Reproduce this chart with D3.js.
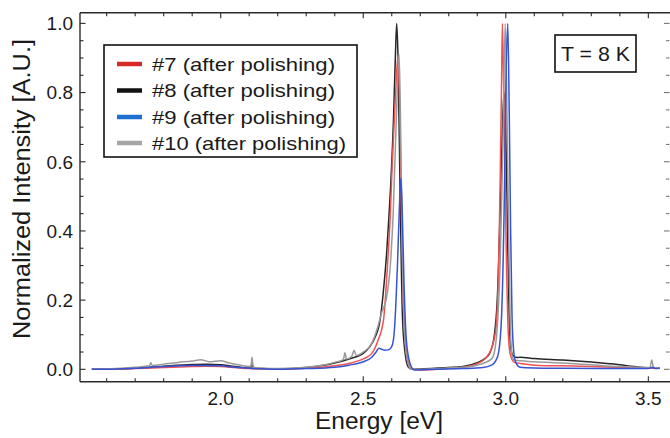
<!DOCTYPE html>
<html>
<head>
<meta charset="utf-8">
<script src="https://cdn.jsdelivr.net/npm/d3@7/dist/d3.min.js"></script>
<style>
  html, body { margin: 0; padding: 0; background: #fff; }
  svg { display: block; font-family: "Liberation Sans", Arial, sans-serif; }
</style>
</head>
<body>
<svg id="chart" width="670" height="438"></svg>
<script>
// Photoluminescence spectra, T = 8 K, normalized intensity vs energy (eV)
const seriesNames = ["#7 (after polishing)", "#8 (after polishing)", "#9 (after polishing)", "#10 (after polishing)"];
const seriesColors = ["#ef5252", "#262626", "#3553d4", "#9a9a9a"];
const legendColors = ["#d42a2a", "#111111", "#1f6fd0", "#a6a6a6"];

const sample7 = [
  [1.548,0],[1.6,0.0],[1.7,0.002],[1.8,0.005],[1.9,0.008],[1.95,0.009],[2.0,0.008],[2.05,0.005],
  [2.1,0.002],[2.2,0.0],[2.3,0.003],[2.4,0.01],[2.45,0.017],[2.5,0.03],[2.53,0.046],[2.55,0.08],
  [2.571,0.142],[2.585,0.3],[2.594,0.43],[2.602,0.6],[2.609,0.72],[2.616,0.84],[2.622,0.908],
  [2.628,0.75],[2.633,0.5],[2.64,0.22],[2.648,0.08],[2.658,0.02],[2.67,0.0],[2.7,-0.002],
  [2.8,0.003],[2.85,0.006],[2.9,0.016],[2.93,0.033],[2.95,0.06],[2.96,0.09],[2.968,0.142],
  [2.975,0.3],[2.98,0.53],[2.985,0.82],[2.988,1.0],[2.993,0.8],[2.998,0.53],[3.003,0.28],
  [3.007,0.14],[3.015,0.046],[3.03,0.02],[3.06,0.016],[3.1,0.012],[3.2,0.01],[3.3,0.008],
  [3.4,0.006],[3.5,0.004],[3.54,0.003]
];
const sample8 = [
  [1.548,0],[1.6,0.0],[1.7,0.003],[1.8,0.009],[1.9,0.014],[1.95,0.015],[2.0,0.013],[2.05,0.008],
  [2.1,0.004],[2.105,0.004],[2.11,0.016],[2.115,0.003],[2.15,0.002],[2.2,0.001],[2.25,0.002],
  [2.3,0.005],[2.35,0.01],[2.4,0.018],[2.45,0.03],[2.5,0.046],[2.52,0.062],[2.54,0.09],
  [2.559,0.142],[2.57,0.22],[2.582,0.335],[2.59,0.44],[2.596,0.528],[2.606,0.72],[2.613,0.913],
  [2.6175,1.0],[2.622,0.9],[2.629,0.528],[2.638,0.142],[2.648,0.04],[2.657,0.008],[2.67,0.0],
  [2.7,0.001],[2.8,0.005],[2.85,0.008],[2.9,0.019],[2.93,0.033],[2.944,0.047],[2.96,0.1],
  [2.97,0.2],[2.98,0.45],[2.988,0.7],[2.994,0.8],[3.0,0.7],[3.006,0.4],[3.012,0.15],
  [3.018,0.06],[3.025,0.04],[3.04,0.034],[3.05,0.035],[3.1,0.031],[3.2,0.027],[3.3,0.021],
  [3.4,0.013],[3.45,0.008],[3.5,0.004],[3.54,0.003]
];
const sample9 = [
  [1.548,0],[1.6,0.0],[1.7,0.003],[1.8,0.008],[1.9,0.011],[1.95,0.011],[2.0,0.01],[2.05,0.006],
  [2.1,0.003],[2.2,0.0],[2.3,0.002],[2.4,0.006],[2.45,0.012],[2.5,0.022],[2.53,0.035],
  [2.545,0.05],[2.555,0.061],[2.565,0.058],[2.575,0.055],[2.59,0.057],[2.6,0.066],[2.608,0.1],
  [2.614,0.18],[2.62,0.3],[2.626,0.45],[2.632,0.553],[2.637,0.45],[2.643,0.25],[2.65,0.1],
  [2.66,0.03],[2.67,0.005],[2.68,-0.002],[2.75,0.0],[2.85,0.002],[2.92,0.005],[2.95,0.012],
  [2.965,0.025],[2.975,0.05],[2.985,0.15],[2.995,0.5],[3.001,0.85],[3.007,1.0],[3.012,0.75],
  [3.017,0.4],[3.022,0.15],[3.028,0.05],[3.035,0.02],[3.05,0.006],[3.1,0.004],[3.2,0.003],
  [3.4,0.002],[3.5,0.002],[3.515,0.006],[3.525,0.002],[3.54,0.003]
];
const sample10 = [
  [1.548,0],[1.6,0.001],[1.7,0.006],[1.75,0.01],[1.755,0.019],[1.76,0.011],[1.8,0.015],
  [1.85,0.02],[1.9,0.024],[1.93,0.028],[1.96,0.022],[2.0,0.025],[2.03,0.018],[2.07,0.012],
  [2.1,0.008],[2.106,0.008],[2.11,0.035],[2.114,0.006],[2.15,0.003],[2.2,0.002],[2.3,0.006],
  [2.35,0.011],[2.4,0.02],[2.43,0.028],[2.436,0.048],[2.441,0.03],[2.46,0.038],[2.468,0.055],
  [2.475,0.04],[2.5,0.05],[2.53,0.075],[2.55,0.12],[2.565,0.165],[2.58,0.2],[2.595,0.3],
  [2.605,0.45],[2.615,0.7],[2.626,0.91],[2.632,0.65],[2.638,0.3],[2.645,0.1],[2.655,0.025],
  [2.668,0.0],[2.7,0.0],[2.8,0.004],[2.85,0.006],[2.9,0.012],[2.95,0.03],[2.96,0.05],
  [2.97,0.12],[2.98,0.3],[2.99,0.65],[2.998,1.0],[3.004,0.75],[3.01,0.4],[3.016,0.12],
  [3.022,0.04],[3.03,0.026],[3.1,0.022],[3.2,0.018],[3.3,0.013],[3.4,0.008],[3.5,0.005],
  [3.506,0.006],[3.512,0.027],[3.518,0.005],[3.54,0.004]
];
const seriesData = [sample7, sample8, sample9, sample10];
const drawOrder = [1, 0, 3, 2];

const xTickValues = [2.0, 2.5, 3.0, 3.5];
const yTickValues = [0.0, 0.2, 0.4, 0.6, 0.8, 1.0];
const xLabel = "Energy [eV]";
const yLabel = "Normalized Intensity [A.U.]";
const noteLabel = "T = 8 K";

const svg = d3.select("#chart");
const plotLeft = 80, plotRight = 670, plotTop = 12.7, plotBottom = 381.7;

const x = d3.scaleLinear().domain([1.5065, 3.576]).range([plotLeft, plotRight]);
const y = d3.scaleLinear().domain([-0.0358, 1.0309]).range([plotBottom, plotTop]);

const minorX = d3.range(16, 36).map(d => d / 10);
const minorY = d3.range(0, 21).map(d => d / 20);

// frame
const frameColor = "#2a2a2a";
const axisG = svg.append("g");
axisG.append("line").attr("x1", plotLeft).attr("x2", plotRight).attr("y1", plotBottom).attr("y2", plotBottom)
  .attr("stroke", frameColor).attr("stroke-width", 1.4);
axisG.append("line").attr("x1", plotLeft).attr("x2", plotRight).attr("y1", plotTop).attr("y2", plotTop)
  .attr("stroke", frameColor).attr("stroke-width", 1.4);
axisG.append("line").attr("x1", plotLeft).attr("x2", plotLeft).attr("y1", plotTop).attr("y2", plotBottom)
  .attr("stroke", frameColor).attr("stroke-width", 1.4);

// ticks (inward) on all four sides
function tickLen(v, majors) { return majors.some(m => Math.abs(m - v) < 1e-6) ? 5.5 : 3.5; }
minorX.forEach(v => {
  const L = tickLen(v, xTickValues);
  axisG.append("line").attr("x1", x(v)).attr("x2", x(v)).attr("y1", plotBottom).attr("y2", plotBottom - L)
    .attr("stroke", frameColor).attr("stroke-width", 1.1);
  axisG.append("line").attr("x1", x(v)).attr("x2", x(v)).attr("y1", plotTop).attr("y2", plotTop + L)
    .attr("stroke", frameColor).attr("stroke-width", 1.1);
});
minorY.forEach(v => {
  const L = tickLen(v, yTickValues);
  axisG.append("line").attr("x1", plotLeft).attr("x2", plotLeft + L).attr("y1", y(v)).attr("y2", y(v))
    .attr("stroke", frameColor).attr("stroke-width", 1.1);
  axisG.append("line").attr("x1", plotRight - 0.5).attr("x2", plotRight - 0.5 - L).attr("y1", y(v)).attr("y2", y(v))
    .attr("stroke", "#777").attr("stroke-width", 1.1);
});

// tick labels
svg.append("g").selectAll("text").data(xTickValues).join("text")
  .attr("x", d => x(d)).attr("y", 405)
  .attr("text-anchor", "middle").attr("font-size", 19).attr("fill", "#1a1a1a")
  .text(d => d3.format(".1f")(d));
svg.append("g").selectAll("text").data(yTickValues).join("text")
  .attr("x", 73).attr("y", d => y(d)).attr("dy", "0.36em")
  .attr("text-anchor", "end").attr("font-size", 19).attr("fill", "#1a1a1a")
  .text(d => d3.format(".1f")(d));

// axis titles
svg.append("text").attr("x", 379).attr("y", 429)
  .attr("text-anchor", "middle").attr("font-size", 23).attr("fill", "#1a1a1a")
  .attr("textLength", 128).attr("lengthAdjust", "spacingAndGlyphs")
  .text(xLabel);
svg.append("text").attr("transform", "translate(30,189) rotate(-90)")
  .attr("text-anchor", "middle").attr("font-size", 23).attr("fill", "#1a1a1a")
  .attr("textLength", 300).attr("lengthAdjust", "spacingAndGlyphs")
  .text(yLabel);

// spectra
const line = d3.line().x(d => x(d[0])).y(d => y(d[1])).curve(d3.curveMonotoneX);
svg.append("g").selectAll("path").data(drawOrder).join("path")
  .attr("d", i => line(seriesData[i]))
  .attr("fill", "none")
  .attr("stroke", i => seriesColors[i])
  .attr("stroke-width", 1.5)
  .attr("stroke-linejoin", "round");

// legend
const lg = svg.append("g");
lg.append("rect").attr("x", 104).attr("y", 45).attr("width", 253).attr("height", 112)
  .attr("fill", "#fff").attr("stroke", "#111").attr("stroke-width", 1.6);
const rowsY = [64, 90.5, 117, 143];
seriesNames.forEach((name, i) => {
  lg.append("line").attr("x1", 117).attr("x2", 142).attr("y1", rowsY[i]).attr("y2", rowsY[i])
    .attr("stroke", legendColors[i]).attr("stroke-width", 4.5);
  lg.append("text").attr("x", 152).attr("y", rowsY[i]).attr("dy", "0.36em")
    .attr("font-size", 19).attr("fill", "#1a1a1a")
    .attr("textLength", i === 3 ? 194 : 183).attr("lengthAdjust", "spacingAndGlyphs")
    .text(name);
});

// temperature note
const ng = svg.append("g");
ng.append("rect").attr("x", 555).attr("y", 35).attr("width", 81).attr("height", 37)
  .attr("fill", "#fff").attr("stroke", "#111").attr("stroke-width", 1.6);
ng.append("text").attr("x", 595.5).attr("y", 53.5).attr("dy", "0.36em")
  .attr("text-anchor", "middle").attr("font-size", 20).attr("fill", "#1a1a1a")
  .attr("textLength", 69).attr("lengthAdjust", "spacingAndGlyphs")
  .text(noteLabel);
</script>
</body>
</html>
